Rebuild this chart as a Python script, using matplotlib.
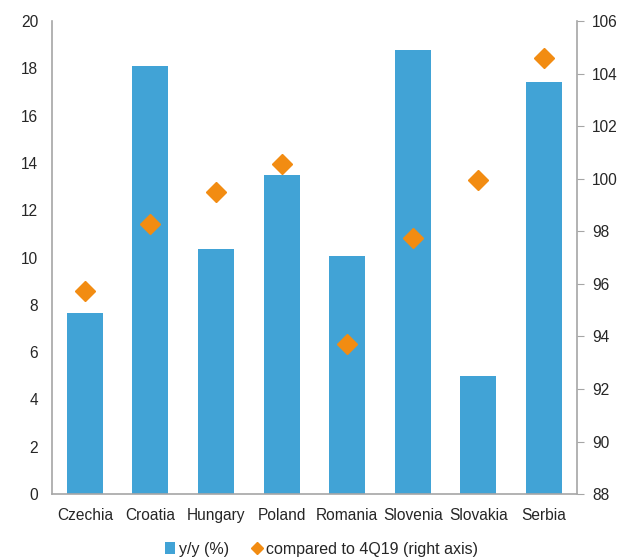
import numpy as np
import matplotlib
matplotlib.use('Agg')
import matplotlib.pyplot as plt

plt.rcParams['font.family'] = ['Liberation Sans', 'DejaVu Sans']

countries = ['Czechia', 'Croatia', 'Hungary', 'Poland', 'Romania', 'Slovenia', 'Slovakia', 'Serbia']
yy_pct = [7.65, 18.1, 10.36, 13.5, 10.06, 18.8, 5.0, 17.42]
vs_4q19 = [95.72, 98.27, 99.49, 100.56, 93.71, 97.74, 99.95, 104.59]

bar_col = '#41A3D6'
dot_col = '#F28C12'
axis_col = '#A6A6A6'
text_col = '#262626'

fig = plt.figure(figsize=(6.27, 5.57), dpi=100)
ax = fig.add_axes([0.083, 0.113, 0.837, 0.849])
x = np.arange(len(countries))
bars = ax.bar(x, yy_pct, width=0.55, color=bar_col, label='y/y (%)', zorder=2)
ax.set_xlim(-0.5, len(countries) - 0.5)
ax.set_ylim(0, 20)
ax.set_yticks(range(0, 21, 2))
ax.set_xticks(x)
ax.set_xticklabels(countries)

ax2 = ax.twinx()
pts, = ax2.plot(x, vs_4q19, linestyle='none', marker='D', markersize=10,
                color=dot_col, label='compared to 4Q19 (right axis)', zorder=3)
ax2.set_ylim(88, 106)
ax2.set_yticks(range(88, 107, 2))

for a in (ax, ax2):
    for s in a.spines.values():
        s.set_visible(False)
    a.tick_params(labelsize=11.2, colors=text_col)
ax.spines['left'].set_visible(True)
ax.spines['bottom'].set_visible(True)
ax2.spines['right'].set_visible(True)
for s in (ax.spines['left'], ax.spines['bottom'], ax2.spines['right']):
    s.set_color(axis_col)
    s.set_linewidth(1.2)
ax.tick_params(axis='y', length=0, pad=10)
ax.tick_params(axis='x', length=0, pad=10)
ax2.tick_params(axis='y', length=5, color=axis_col, pad=6)

fig.legend(handles=[bars, pts], loc='lower center', bbox_to_anchor=(0.513, -0.025),
           ncol=2, frameon=False, fontsize=11.5, handlelength=0.6, handletextpad=0.25,
           columnspacing=1.5, markerscale=0.6, labelcolor=text_col)

fig.savefig('out.png', dpi=100)
